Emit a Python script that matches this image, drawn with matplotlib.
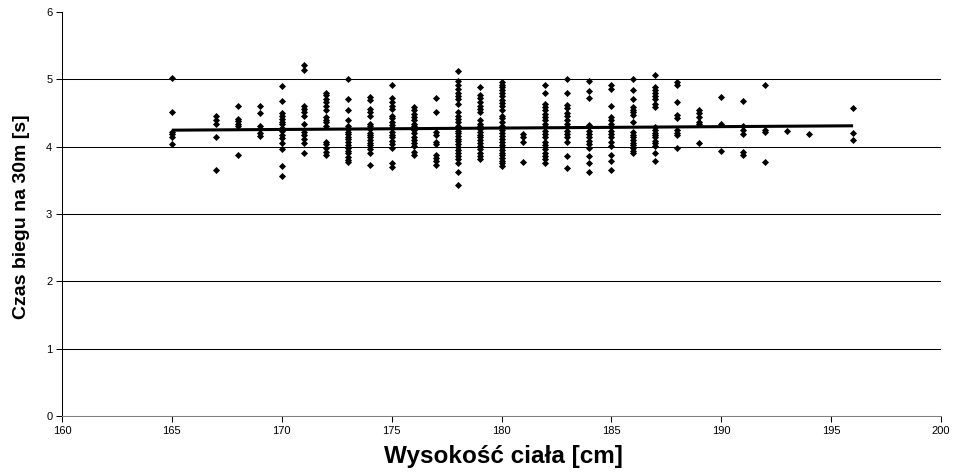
import numpy as np
import matplotlib
matplotlib.use("Agg")
import matplotlib.pyplot as plt

plt.rcParams['font.family'] = ['Liberation Sans', 'DejaVu Sans']

# Body height [cm] and the 30 m sprint times [s] recorded at each height
heights = [165, 167, 168, 169, 170, 171, 172, 173, 174, 175, 176, 177, 178, 179, 180,
           181, 182, 183, 184, 185, 186, 187, 188, 189, 190, 191, 192, 193, 194, 196]

times = [
    [5.02, 4.51, 4.22, 4.19, 4.15, 4.04],                                   # 165
    [4.45, 4.39, 4.34, 4.14, 3.66],                                         # 167
    [4.60, 4.41, 4.38, 4.34, 4.30, 3.88],                                   # 168
    [4.60, 4.50, 4.30, 4.26, 4.20, 4.16],                                   # 169
    [4.90, 4.68, 4.50, 4.46, 4.41, 4.37, 4.33, 4.28, 4.23, 4.18, 4.13,
     4.06, 3.96, 3.72, 3.56],                                               # 170
    [5.22, 5.14, 4.61, 4.56, 4.51, 4.45, 4.33, 4.22, 4.17, 4.12, 4.06,
     3.90],                                                                 # 171
    [4.80, 4.76, 4.71, 4.66, 4.61, 4.55, 4.44, 4.40, 4.36, 4.31, 4.07,
     4.04, 3.98, 3.92, 3.87],                                               # 172
    [5.00, 4.71, 4.55, 4.39, 4.31, 4.26, 4.22, 4.19, 4.15, 4.11, 4.07,
     4.03, 3.98, 3.94, 3.90, 3.85, 3.80, 3.77],                             # 173
    [4.74, 4.69, 4.56, 4.51, 4.45, 4.34, 4.30, 4.26, 4.21, 4.17, 4.14,
     4.10, 4.06, 4.02, 3.96, 3.91, 3.73],                                   # 174
    [4.92, 4.72, 4.67, 4.61, 4.56, 4.46, 4.42, 4.37, 4.32, 4.27, 4.22,
     4.17, 4.14, 4.09, 4.04, 3.98, 3.75, 3.70],                             # 175
    [4.59, 4.54, 4.49, 4.44, 4.39, 4.34, 4.30, 4.25, 4.20, 4.15, 4.10,
     4.05, 4.01, 3.92, 3.87],                                               # 176
    [4.72, 4.51, 4.22, 4.18, 4.07, 4.04, 3.88, 3.83, 3.78, 3.73],           # 177
    [5.13, 4.97, 4.92, 4.86, 4.80, 4.75, 4.71, 4.64, 4.51, 4.46, 4.41,
     4.36, 4.31, 4.27, 4.24, 4.20, 4.16, 4.12, 4.08, 4.04, 4.00, 3.95,
     3.90, 3.86, 3.81, 3.76, 3.63, 3.43],                                   # 178
    [4.88, 4.77, 4.72, 4.66, 4.61, 4.56, 4.51, 4.39, 4.34, 4.30, 4.26,
     4.22, 4.18, 4.14, 4.10, 4.05, 4.01, 3.96, 3.91, 3.86, 3.81],           # 179
    [4.96, 4.92, 4.88, 4.84, 4.80, 4.75, 4.70, 4.65, 4.60, 4.55, 4.46,
     4.42, 4.36, 4.31, 4.25, 4.20, 4.16, 4.11, 4.07, 4.03, 3.99, 3.95,
     3.91, 3.87, 3.83, 3.79, 3.75, 3.71],                                   # 180
    [4.19, 4.14, 4.07, 3.77],                                               # 181
    [4.92, 4.80, 4.64, 4.59, 4.54, 4.49, 4.44, 4.39, 4.34, 4.29, 4.24,
     4.19, 4.14, 4.07, 4.02, 3.96, 3.91, 3.86, 3.81, 3.76],                 # 182
    [5.00, 4.80, 4.62, 4.57, 4.50, 4.45, 4.40, 4.34, 4.29, 4.24, 4.19,
     4.14, 4.07, 3.86, 3.68],                                               # 183
    [4.97, 4.82, 4.72, 4.32, 4.29, 4.24, 4.19, 4.14, 4.09, 4.04, 3.98,
     3.86, 3.76, 3.62],                                                     # 184
    [4.91, 4.85, 4.61, 4.44, 4.39, 4.34, 4.29, 4.24, 4.19, 4.14, 4.07,
     4.01, 3.88, 3.78, 3.66],                                               # 185
    [5.00, 4.84, 4.71, 4.59, 4.55, 4.51, 4.47, 4.36, 4.22, 4.18, 4.14,
     4.10, 4.06, 4.02, 3.98, 3.93, 3.90],                                   # 186
    [5.06, 4.89, 4.84, 4.79, 4.75, 4.71, 4.64, 4.59, 4.29, 4.25, 4.21,
     4.17, 4.14, 4.09, 4.05, 4.01, 3.91, 3.78],                             # 187
    [4.96, 4.91, 4.67, 4.47, 4.42, 4.25, 4.20, 4.17, 3.98],                 # 188
    [4.55, 4.50, 4.44, 4.36, 4.34, 4.05],                                   # 189
    [4.74, 4.34, 3.93],                                                     # 190
    [4.68, 4.30, 4.25, 4.19, 3.92, 3.88],                                   # 191
    [4.92, 4.25, 4.22, 3.77],                                               # 192
    [4.23],                                                                 # 193
    [4.19],                                                                 # 194
    [4.57, 4.20, 4.10],                                                     # 196
]

# linear trend: time at the shortest and tallest measured height
trend_heights = [165, 196]
trend_times = [4.245, 4.31]

x_ticks = [160, 165, 170, 175, 180, 185, 190, 195, 200]
y_ticks = [0, 1, 2, 3, 4, 5, 6]

xs = np.concatenate([[h] * len(t) for h, t in zip(heights, times)]).astype(float)
ys = np.concatenate([np.asarray(t, dtype=float) for t in times])

fig = plt.figure(figsize=(9.61, 4.72), dpi=100)
ax = fig.add_axes([62 / 961, 1 - 416 / 472, (941 - 62) / 961, (416 - 12) / 472])

# horizontal gridlines
for y in y_ticks[1:-1]:
    ax.axhline(y, color='black', lw=0.75, zorder=1)

ax.scatter(xs, ys, marker='D', s=13, color='black', linewidths=0, zorder=3)

ax.plot(trend_heights, trend_times, color='black', lw=2.2,
        solid_capstyle='butt', zorder=4)

ax.set_xlim(160, 200)
ax.set_ylim(0, 6)
ax.set_xticks(x_ticks)
ax.set_yticks(y_ticks)
ax.tick_params(axis='both', labelsize=8, length=4, width=0.75, color='black', pad=3)
for side in ('top', 'right'):
    ax.spines[side].set_visible(False)
ax.spines['left'].set_color('black')
ax.spines['bottom'].set_color('#808080')
ax.spines['left'].set_linewidth(0.75)
ax.spines['bottom'].set_linewidth(0.75)

fig.text(22 / 961, 1 - 217 / 472, 'Czas biegu na 30m [s]', rotation=90,
         ha='center', va='center', fontsize=14, fontweight='bold')
fig.text(503 / 961, 1 - 456 / 472, 'Wysokość ciała [cm]',
         ha='center', va='center', fontsize=17.5, fontweight='bold')

fig.savefig('out.png', dpi=100, facecolor='white')
